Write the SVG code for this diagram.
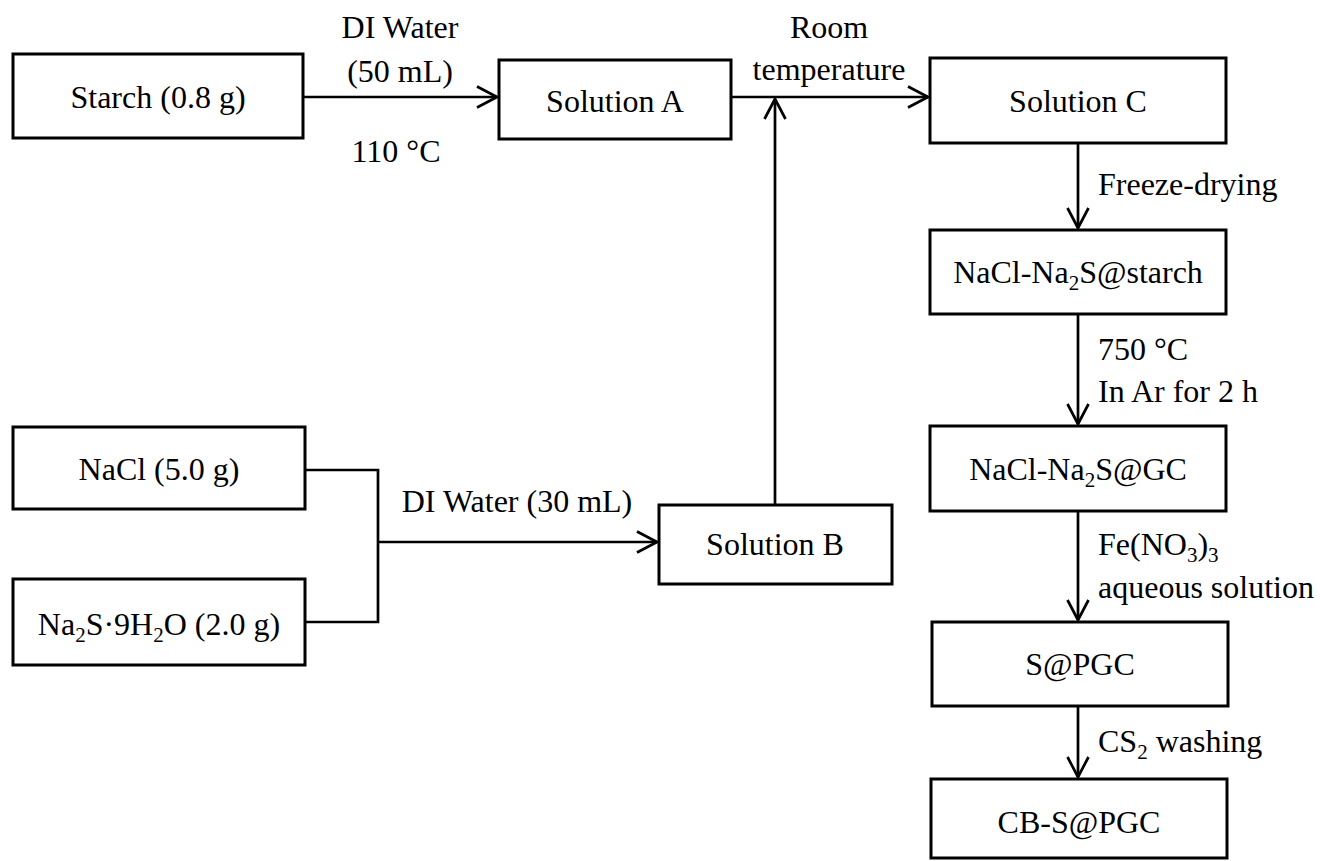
<svg xmlns="http://www.w3.org/2000/svg" width="1320" height="861" viewBox="0 0 1320 861">
<style>
.box{fill:#fff;stroke:#000;stroke-width:3}
.ln{fill:none;stroke:#000;stroke-width:2.7}
text{font-family:"Liberation Serif","Times New Roman",serif;font-size:32px;fill:#000}
.c{text-anchor:middle}
</style>
<defs>
<marker id="ah" viewBox="-24 -14 28 28" markerUnits="userSpaceOnUse" markerWidth="28" markerHeight="28" refX="0" refY="0" orient="auto">
<path d="M-20,-10.5 L0,0 L-20,10.5" fill="none" stroke="#000" stroke-width="2.7" stroke-linejoin="round"/>
</marker>
</defs>
<rect width="1320" height="861" fill="#fff"/>
<g id="connectors">
<path class="ln" d="M303,97 H497" marker-end="url(#ah)"/>
<path class="ln" d="M731,97 H928" marker-end="url(#ah)"/>
<path class="ln" d="M775,505 V99" marker-end="url(#ah)"/>
<path class="ln" d="M305,470 H378 V622 H305"/>
<path class="ln" d="M378,542 H657" marker-end="url(#ah)"/>
<path class="ln" d="M1078,143 V228" marker-end="url(#ah)"/>
<path class="ln" d="M1078,314 V424" marker-end="url(#ah)"/>
<path class="ln" d="M1078,511 V620" marker-end="url(#ah)"/>
<path class="ln" d="M1078,706 V777" marker-end="url(#ah)"/>
</g>
<g id="labels">
<text class="c" x="400" y="38">DI Water</text>
<text class="c" x="400" y="82">(50 mL)</text>
<text class="c" x="396" y="162">110 °C</text>
<text class="c" x="829" y="38">Room</text>
<text class="c" x="829" y="80">temperature</text>
<text class="c" x="517" y="512">DI Water (30 mL)</text>
<text x="1098" y="195">Freeze-drying</text>
<text x="1098" y="360">750 °C</text>
<text x="1098" y="402">In Ar for 2 h</text>
<text x="1098" y="555">Fe(NO<tspan font-size="21" dy="7">3</tspan><tspan dy="-7">)</tspan><tspan font-size="21" dy="7">3</tspan></text>
<text x="1098" y="598">aqueous solution</text>
<text x="1098" y="752">CS<tspan font-size="21" dy="7">2</tspan><tspan dy="-7"> washing</tspan></text>
</g>
<g id="starch">
<rect class="box" x="13" y="54" width="290" height="84"/>
<text class="c" x="158" y="108">Starch (0.8 g)</text>
</g>
<g id="solA">
<rect class="box" x="499" y="60" width="232" height="79"/>
<text class="c" x="615" y="112">Solution A</text>
</g>
<g id="nacl">
<rect class="box" x="13" y="427" width="292" height="82"/>
<text class="c" x="159" y="480">NaCl (5.0 g)</text>
</g>
<g id="na2s">
<rect class="box" x="13" y="579" width="292" height="86"/>
<text class="c" x="159" y="635">Na<tspan font-size="21" dy="7">2</tspan><tspan dy="-7">S·9H</tspan><tspan font-size="21" dy="7">2</tspan><tspan dy="-7">O (2.0 g)</tspan></text>
</g>
<g id="solB">
<rect class="box" x="659" y="505" width="233" height="79"/>
<text class="c" x="775" y="555">Solution B</text>
</g>
<g id="solC">
<rect class="box" x="930" y="58" width="296" height="85"/>
<text class="c" x="1078" y="112">Solution C</text>
</g>
<g id="starchComposite">
<rect class="box" x="930" y="230" width="296" height="84"/>
<text class="c" x="1078" y="283">NaCl-Na<tspan font-size="21" dy="7">2</tspan><tspan dy="-7">S@starch</tspan></text>
</g>
<g id="gc">
<rect class="box" x="930" y="426" width="296" height="85"/>
<text class="c" x="1078" y="480">NaCl-Na<tspan font-size="21" dy="7">2</tspan><tspan dy="-7">S@GC</tspan></text>
</g>
<g id="spgc">
<rect class="box" x="932" y="622" width="296" height="84"/>
<text class="c" x="1080" y="675">S@PGC</text>
</g>
<g id="cbspgc">
<rect class="box" x="931" y="779" width="296" height="79"/>
<text class="c" x="1079" y="833">CB-S@PGC</text>
</g>
</svg>
